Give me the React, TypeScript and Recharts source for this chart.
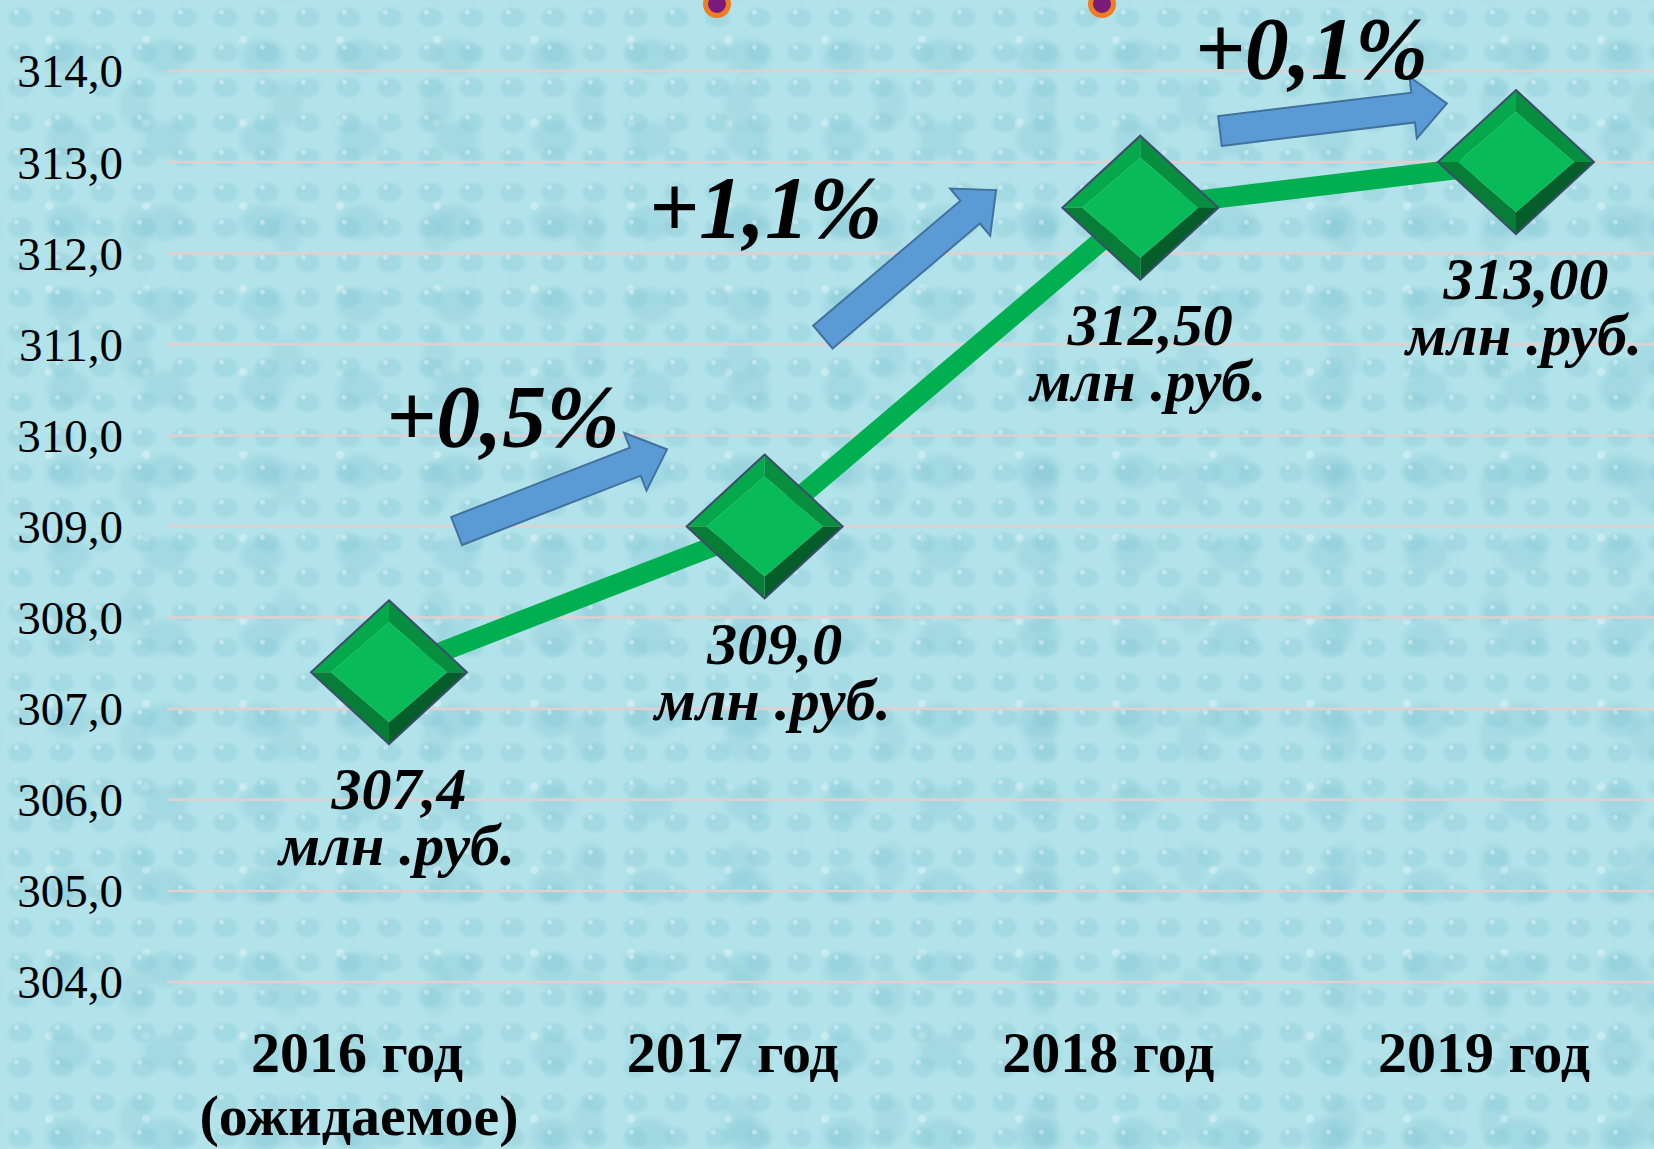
import React from 'react';
import { LineChart, Line, XAxis, YAxis, CartesianGrid, ReferenceLine, LabelList } from 'recharts';

// ---------- data ----------
const categories = ['2016 год', '2017 год', '2018 год', '2019 год'];
const categoryNotes = ['(ожидаемое)', '', '', ''];
const revenue = [307.4, 309.0, 312.5, 313.0];
const valueLabels = ['307,4', '309,0', '312,50', '313,00'];
const unitLabel = 'млн .руб.';
const growthLabels = ['+0,5%', '+1,1%', '+0,1%'];
const yTicks = [304, 305, 306, 307, 308, 309, 310, 311, 312, 313, 314];

const data = categories.map((c, i) => ({ category: c, value: revenue[i], label: valueLabels[i] }));

// ---------- layout / style ----------
const W = 1654;
const H = 1149;
const SERIF = "'Liberation Serif', 'Times New Roman', serif";
const LINE_GREEN = '#00B050';

const arrowLayout = [
  { t0: 0.18, t1: 0.74, lift: 115, tdx: -59, tdy: -75 },
  { t0: 0.155, t1: 0.616, lift: 140, tdx: -144, tdy: -57 },
  { t0: 0.212, t1: 0.816, lift: 67, tdx: -22, tdy: -70 },
];

const fmtTick = (v: number) => v.toFixed(1).replace('.', ',');

const YTick = (props: any) => {
  const { x, y, payload } = props;
  return (
    <text x={x} y={y} dy="0.35em" textAnchor="end" fontFamily={SERIF} fontSize={47} fill="#000">
      {fmtTick(Number(payload.value))}
    </text>
  );
};

const XTick = (props: any) => {
  const { x, y, payload } = props;
  const idx = categories.indexOf(payload.value);
  const note = idx >= 0 ? categoryNotes[idx] : '';
  return (
    <g>
      <text x={x - 32} y={y + 90} textAnchor="middle" fontFamily={SERIF} fontWeight="bold" fontSize={58} fill="#000">
        {payload.value}
      </text>
      {note ? (
        <text x={x - 30} y={y + 153} textAnchor="middle" fontFamily={SERIF} fontWeight="bold" fontSize={58} fill="#000">
          {note}
        </text>
      ) : null}
    </g>
  );
};

const Diamond = (props: any) => {
  const { cx, cy } = props;
  if (cx == null || cy == null) return <g />;
  const ow = 78, oh = 72, iw = 58, ih = 50;
  const T = [cx, cy - oh], R = [cx + ow, cy], B = [cx, cy + oh], L = [cx - ow, cy];
  const t = [cx, cy - ih], r = [cx + iw, cy], b = [cx, cy + ih], l = [cx - iw, cy];
  const poly = (pts: number[][]) => pts.map((p) => p.join(',')).join(' ');
  return (
    <g>
      <polygon points={poly([L, T, t, l])} fill="#05a84b" />
      <polygon points={poly([T, R, r, t])} fill="#078f3f" />
      <polygon points={poly([R, B, b, r])} fill="#055e2a" />
      <polygon points={poly([B, L, l, b])} fill="#077d37" />
      <polygon points={poly([t, r, b, l])} fill="#09bb58" />
      <polygon points={poly([T, R, B, L])} fill="none" stroke="#3c4d6c" strokeWidth={2} />
    </g>
  );
};

const ValueLabel = (props: any) => {
  const { x, y, value } = props;
  if (x == null || y == null) return null;
  return (
    <g>
      <text x={x + 10} y={y + 116} dy="0.35em" textAnchor="middle" fontFamily={SERIF} fontWeight="bold" fontStyle="italic" fontSize={60} fill="#000">
        {value}
      </text>
      <text x={x + 8} y={y + 172} dy="0.35em" textAnchor="middle" fontFamily={SERIF} fontWeight="bold" fontStyle="italic" fontSize={60} fill="#000">
        {unitLabel}
      </text>
    </g>
  );
};

const makeArrow = (i: number) => (props: any) => {
  const { x1, y1, x2, y2 } = props;
  if ([x1, y1, x2, y2].some((v) => v == null || isNaN(v))) return <g />;
  const lay = arrowLayout[i];
  const ax = x1 + lay.t0 * (x2 - x1);
  const ay = y1 + lay.t0 * (y2 - y1) - lay.lift;
  const bx = x1 + lay.t1 * (x2 - x1);
  const by = y1 + lay.t1 * (y2 - y1) - lay.lift;
  const len = Math.hypot(bx - ax, by - ay);
  const ux = (bx - ax) / len, uy = (by - ay) / len;
  const nx = -uy, ny = ux;
  const sw = 15, hw = 31, hl = 34;
  const hx = bx - ux * hl, hy = by - uy * hl;
  const pts = [
    [ax + nx * sw, ay + ny * sw],
    [hx + nx * sw, hy + ny * sw],
    [hx + nx * hw, hy + ny * hw],
    [bx, by],
    [hx - nx * hw, hy - ny * hw],
    [hx - nx * sw, hy - ny * sw],
    [ax - nx * sw, ay - ny * sw],
  ];
  const mx = (ax + bx) / 2 + lay.tdx;
  const my = (ay + by) / 2 + lay.tdy;
  return (
    <g>
      <polygon points={pts.map((p) => p.join(',')).join(' ')} fill="#5b9bd5" stroke="#41719c" strokeWidth={2} />
      <text x={mx} y={my} dy="0.35em" textAnchor="middle" fontFamily={SERIF} fontWeight="bold" fontStyle="italic" fontSize={88} fill="#000">
        {growthLabels[i]}
      </text>
    </g>
  );
};

const background: React.CSSProperties = {
  position: 'absolute',
  left: 0,
  top: 0,
  width: W,
  height: H,
  overflow: 'hidden',
  backgroundColor: '#b3e3ea',
  backgroundImage: [
    'radial-gradient(circle at 40% 35%, rgba(255,255,255,0.35) 0 2px, transparent 3px)',
    'radial-gradient(ellipse 15px 12px at 50% 50%, rgba(130,198,212,0.35) 0 60%, transparent 100%)',
    'radial-gradient(circle at 30% 30%, rgba(255,255,255,0.3) 0 3px, transparent 5px)',
    'radial-gradient(ellipse 28px 22px at 50% 50%, rgba(120,190,206,0.28) 0 55%, transparent 100%)',
    'radial-gradient(ellipse 20px 30px at 50% 50%, rgba(125,192,208,0.22) 0 55%, transparent 100%)',
  ].join(','),
  backgroundSize: '41px 35px, 41px 35px, 97px 83px, 97px 83px, 151px 127px',
  backgroundPosition: '0 0, 0 0, 20px 15px, 20px 15px, 60px 40px',
};

export default function App() {
  return (
    <div style={background}>
      <div style={{ position: 'absolute', left: 703, top: -10, width: 18, height: 18, borderRadius: '50%', background: '#7a1a7a', border: '5px solid #ef7d22' }} />
      <div style={{ position: 'absolute', left: 1088, top: -10, width: 18, height: 18, borderRadius: '50%', background: '#7a1a7a', border: '5px solid #ef7d22' }} />
      <LineChart width={W} height={H} data={data} margin={{ top: 71, right: 0, bottom: 0, left: 0 }}>
        <CartesianGrid vertical={false} stroke="#e2cfcf" strokeWidth={2.5} />
        <XAxis
          dataKey="category"
          height={167}
          padding={{ left: 222, right: 138 }}
          axisLine={false}
          tickLine={false}
          tickSize={0}
          tickMargin={0}
          interval={0}
          tick={<XTick />}
        />
        <YAxis
          width={167}
          domain={[304, 314]}
          ticks={yTicks}
          type="number"
          allowDataOverflow
          axisLine={false}
          tickLine={false}
          tickSize={0}
          tickMargin={44}
          tick={<YTick />}
        />
        {arrowLayout.map((_, i) => (
          <ReferenceLine
            key={`arrow-${i}`}
            segment={[
              { x: categories[i], y: revenue[i] },
              { x: categories[i + 1], y: revenue[i + 1] },
            ]}
            ifOverflow="visible"
            shape={makeArrow(i)}
          />
        ))}
        <Line
          dataKey="value"
          stroke={LINE_GREEN}
          strokeWidth={20}
          strokeLinejoin="round"
          isAnimationActive={false}
          dot={(p: any) => <Diamond key={`dot-${p.index}`} {...p} />}
          activeDot={false}
        >
          <LabelList dataKey="label" content={<ValueLabel />} />
        </Line>
      </LineChart>
    </div>
  );
}
